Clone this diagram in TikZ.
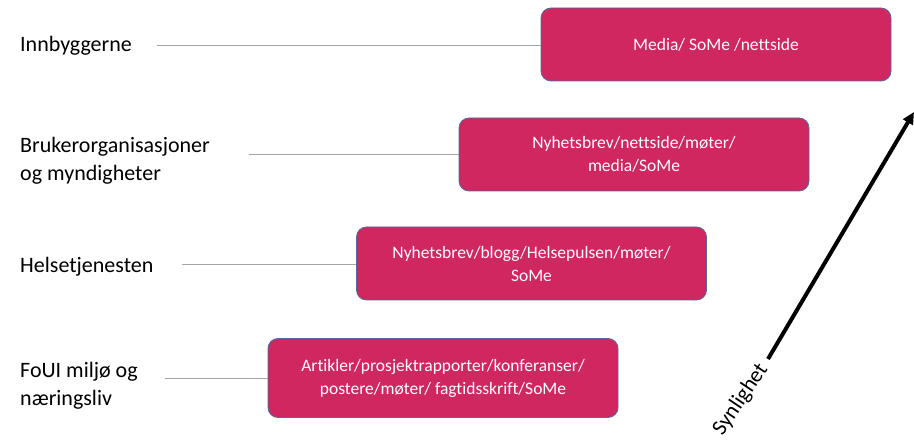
\documentclass[tikz,border=0pt]{standalone}
\usepackage{fontspec}
\setmainfont{Carlito}[Ligatures=NoCommon]
\usetikzlibrary{positioning}
\usetikzlibrary{arrows.meta}
\definecolor{boxpink}{RGB}{208,39,96}
\definecolor{boxedge}{RGB}{84,104,160}
\definecolor{linegray}{RGB}{165,165,165}

\begin{document}
\begin{tikzpicture}[x=1pt,y=-1pt,
  channel/.style={draw=boxedge,line width=0.8pt,fill=boxpink,rounded corners=10pt,
    minimum width=350pt,minimum height=73pt,align=center,text=white,
    font=\fontsize{17.5}{23}\selectfont},
  group/.style={anchor=west,align=left,inner sep=0pt,font=\fontsize{22}{28}\selectfont},
  link/.style={draw=linegray,line width=1pt}]
\useasboundingbox (0,0) rectangle (914,446);

% target groups
\node [group] (innb) at (20,46) {Innbyggerne};
\node [group] (bruker) at (20,161) {Brukerorganisasjoner\\og myndigheter};
\node [group] (helsetj) at (20,267) {Helsetjenesten};
\node [group] (foui) at (20,386) {FoUI miljø og\\næringsliv};

% channels
\node [channel] (media) at (716,44.5) {Media/ SoMe /nettside};
\node [channel] (nyhet) at (634,154.5) {Nyhetsbrev/nettside/møter/\\media/SoMe};
\node [channel] (blogg) at (531.5,263.5) {Nyhetsbrev/blogg/Helsepulsen/møter/\\SoMe};
\node [channel,minimum height=79pt] (artikler) at (443,378) {Artikler/prosjektrapporter/konferanser/\\postere/møter/ fagtidsskrift/SoMe};

% connectors
\coordinate (innbstart) at (157,46);
\coordinate (brukerstart) at (249,155);
\coordinate (helsestart) at (182,265);
\coordinate (fouistart) at (165,379);
\draw [link] (innbstart) -- (innbstart -| media.west);
\draw [link] (brukerstart) -- (brukerstart -| nyhet.west);
\draw [link] (helsestart) -- (helsestart -| blogg.west);
\draw [link] (fouistart) -- (fouistart -| artikler.west);

% visibility arrow
\coordinate (tail) at (768,359);
\coordinate (tip) at (914,112);
\draw [-{Triangle[length=12pt,width=11pt]},line width=4pt] (tail) -- (tip);
\node [rotate=56,anchor=east,inner sep=8pt,font=\fontsize{22}{28}\selectfont] (synlighet) at (tail) {Synlighet};
\end{tikzpicture}
\end{document}
